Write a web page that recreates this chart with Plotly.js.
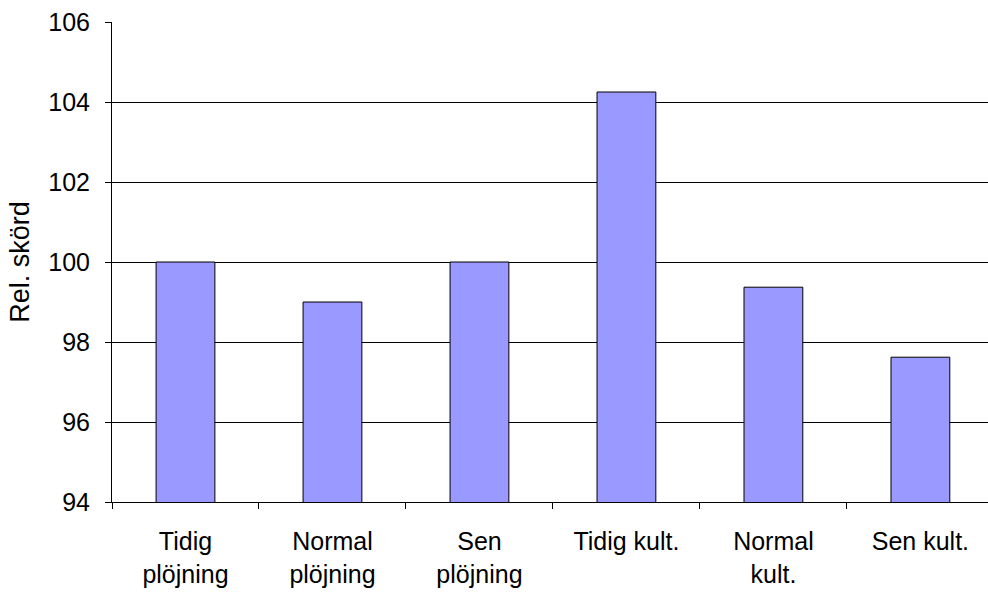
<!DOCTYPE html>
<html>
<head>
<meta charset="utf-8">
<script src="https://cdn.plot.ly/plotly-3.0.1.min.js"></script>
<style>
  body { margin: 0; background: #fff; }
  #plot { width: 988px; height: 592px; }
</style>
</head>
<body>
<div id="plot"></div>
<script>
// Categories and relative yield
var categories = ["Tidig<br>plöjning", "Normal<br>plöjning", "Sen<br>plöjning",
                  "Tidig kult.", "Normal<br>kult.", "Sen kult."];
var relYield = [100, 99, 100, 104.25, 99.37, 97.62];

var trace1 = {
  x: categories,
  y: relYield,
  type: "bar",
  width: 0.4,
  marker: {
    color: "#9999ff",
    line: { color: "#000000", width: 1 }
  },
  hoverinfo: "x+y"
};

var layout = {
  width: 988,
  height: 592,
  margin: { l: 112, r: 0, t: 22, b: 90 },
  paper_bgcolor: "#ffffff",
  plot_bgcolor: "#ffffff",
  font: { family: "Liberation Sans, Arial, sans-serif", size: 24, color: "#000000" },
  showlegend: false,
  xaxis: {
    type: "category",
    range: [-0.5, 5.46],
    showline: true,
    linecolor: "#000000",
    linewidth: 1,
    ticks: "outside",
    tickson: "boundaries",
    ticklen: 6,
    tickcolor: "#000000",
    ticklabelstandoff: 17,
    showgrid: false,
    tickfont: { size: 25 }
  },
  yaxis: {
    title: { text: "Rel. skörd", font: { size: 27 }, standoff: 10 },
    range: [94, 106],
    dtick: 2,
    showline: true,
    linecolor: "#000000",
    linewidth: 1,
    ticks: "outside",
    ticklen: 6,
    tickcolor: "#000000",
    ticklabelstandoff: 10,
    showgrid: true,
    gridcolor: "#000000",
    gridwidth: 1,
    zeroline: false,
    tickfont: { size: 25 }
  }
};

Plotly.newPlot("plot", [trace1], layout, { displayModeBar: false, staticPlot: true });
</script>
</body>
</html>
